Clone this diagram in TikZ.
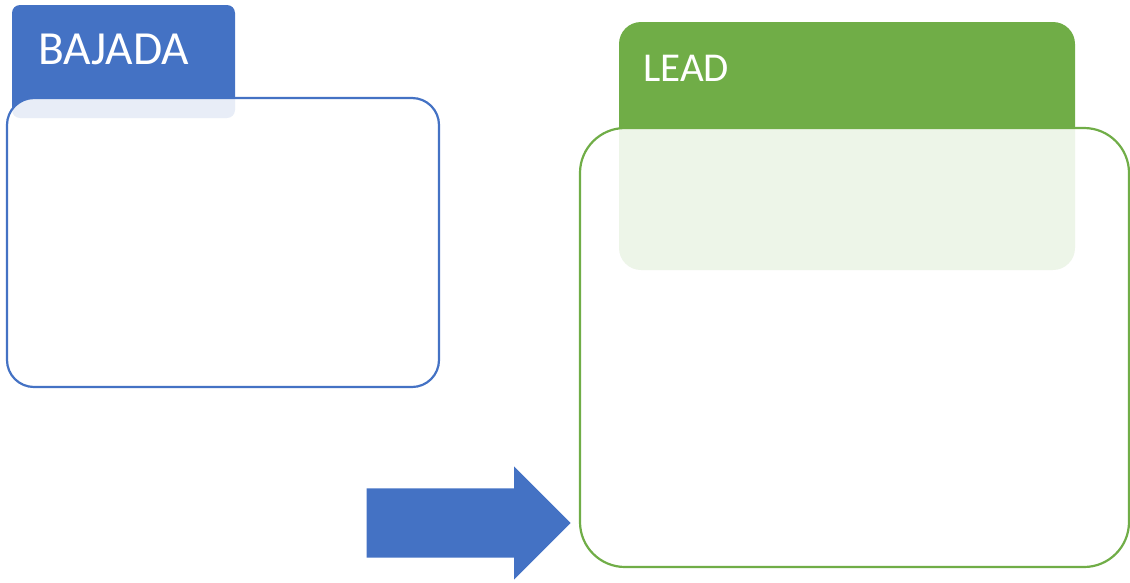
\documentclass[tikz,border=0pt]{standalone}
\usepackage{fontspec}
\setmainfont{Carlito}
\usetikzlibrary{shapes.arrows}
\definecolor{accblue}{HTML}{4472C4}
\definecolor{accgreen}{HTML}{70AD47}
\tikzset{
  tabbox/.style={rectangle, anchor=north west, inner sep=0pt, outer sep=0pt},
  framebox/.style={rectangle, anchor=north west, inner sep=0pt, outer sep=0pt,
    fill=white, fill opacity=0.88, line width=2.2pt},
  tabtext/.style={anchor=base west, inner sep=0pt, text=white},
  bigarrow/.style={single arrow, fill=accblue, draw=none, inner xsep=0pt,
    inner ysep=34.5pt, minimum height=204pt, single arrow head extend=22pt,
    single arrow tip angle=90, anchor=tip}
}
\begin{document}
\begin{tikzpicture}[x=1pt,y=-1pt]
\useasboundingbox (0,0) rectangle (1130,582);
% blue card with its tab
\node[tabbox, fill=accblue, rounded corners=8pt, minimum width=223pt, minimum height=113pt] (btab) at (12,5) {};
\node[framebox, draw=accblue, rounded corners=27pt, minimum width=432pt, minimum height=289pt] (bbox) at (7,98) {};
\node[tabtext, font=\fontsize{47.5}{47.5}\selectfont] (btext) at (38,64.5) {BAJADA};
% green card with its tab
\node[tabbox, fill=accgreen, rounded corners=22pt, minimum width=456pt, minimum height=248pt] (gtab) at (619,22) {};
\node[framebox, draw=accgreen, rounded corners=45pt, minimum width=549pt, minimum height=439pt] (gbox) at (580,128) {};
\node[tabtext, font=\fontsize{41}{41}\selectfont] (gtext) at (643,81) {LEAD};
% block arrow pointing into the green card
\coordinate (tip) at (571,523);
\node[bigarrow] (arr) at (tip) {};
\end{tikzpicture}
\end{document}
